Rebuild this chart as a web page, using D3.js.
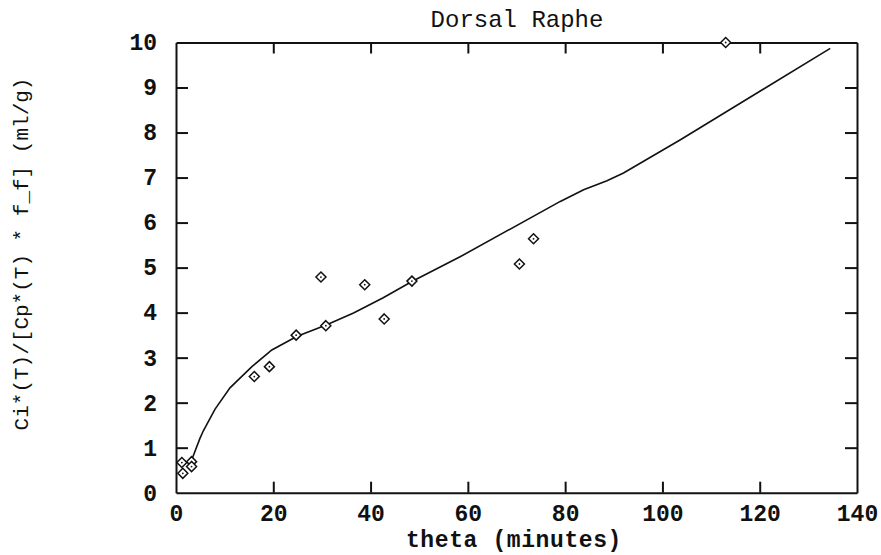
<!DOCTYPE html>
<html lang="en">
<head>
<meta charset="utf-8">
<title>Dorsal Raphe</title>
<script src="https://d3js.org/d3.v7.min.js"></script>
<style>
  body { margin: 0; background: #fff; }
  text { font-family: "Liberation Mono", "Courier New", monospace; fill: #111; }
  .tick text { font-size: 23px; font-weight: bold; }
  .title { font-size: 24px; }
  .label { font-size: 23px; font-weight: bold; letter-spacing: 0.6px; }
  .ylabel { font-size: 21px; }
  .domain, .tick line { stroke: #111; stroke-width: 2; }
</style>
</head>
<body>
<div id="vis"></div>
<script>
// measured points (theta, ratio)
const pointTheta = [1.2, 1.4, 3.2, 3.2, 16.1, 19.2, 24.7, 29.8, 30.8, 38.8, 42.8, 48.5, 70.6, 73.5, 113];
const pointRatio = [0.67, 0.43, 0.69, 0.58, 2.58, 2.80, 3.50, 4.79, 3.71, 4.62, 3.86, 4.70, 5.08, 5.64, 10.0];

// fitted curve
const fitTheta = [3.2, 4.9, 5.6, 8.0, 11.1, 15.6, 19.7, 24.8, 31.0, 36.5, 42.6, 48.5, 58.4, 79.0, 83.8, 88.6, 92.0, 103.7, 134.5];
const fitRatio = [0.72, 1.20, 1.37, 1.85, 2.33, 2.80, 3.17, 3.47, 3.73, 3.99, 4.33, 4.69, 5.24, 6.47, 6.73, 6.93, 7.10, 7.84, 9.87];

const xTicks = [0, 20, 40, 60, 80, 100, 120, 140];
const yTicks = [0, 1, 2, 3, 4, 5, 6, 7, 8, 9, 10];

const width = 881, height = 555;
const plotLeft = 176, plotRight = 857, plotTop = 42.5, plotBottom = 492.7;

const x = d3.scaleLinear().domain([0, 140]).range([plotLeft, plotRight]);
const y = d3.scaleLinear().domain([0, 10]).range([plotBottom, plotTop]);

const svg = d3.select("#vis").append("svg")
  .attr("width", width)
  .attr("height", height);

// axes, ticks pointing inward
svg.append("g")
  .attr("transform", "translate(0," + plotBottom + ")")
  .call(d3.axisBottom(x).tickValues(xTicks).tickSizeInner(-11).tickSizeOuter(0).tickPadding(12));

svg.append("g")
  .attr("transform", "translate(0," + plotTop + ")")
  .call(d3.axisTop(x).tickValues(xTicks.slice(1, -1)).tickSizeInner(-11).tickSizeOuter(0).tickFormat(""));

svg.append("g")
  .attr("transform", "translate(" + plotLeft + ",0)")
  .call(d3.axisLeft(y).tickValues(yTicks).tickSizeInner(-12).tickSizeOuter(0).tickPadding(19));

svg.append("g")
  .attr("transform", "translate(" + plotRight + ",0)")
  .call(d3.axisRight(y).tickValues(yTicks.slice(1, -1)).tickSizeInner(-12).tickSizeOuter(0).tickFormat(""));

// hide the edge ticks that sit on the frame corners
svg.selectAll(".tick line").filter(d => d === 0 || d === 140 || d === 10).remove();

// fitted line
const line = d3.line()
  .x((d, i) => x(fitTheta[i]))
  .y(d => y(d));

svg.append("path")
  .datum(fitRatio)
  .attr("fill", "none")
  .attr("stroke", "#111")
  .attr("stroke-width", 1.6)
  .attr("d", line);

// data points: diamonds with a centre dot
const pts = svg.append("g").selectAll("g")
  .data(pointRatio)
  .enter()
  .append("g")
  .attr("transform", (d, i) => "translate(" + x(pointTheta[i]) + "," + y(d) + ")");

pts.append("path")
  .attr("d", "M0,-5L5,0L0,5L-5,0Z")
  .attr("fill", "#fff")
  .attr("stroke", "#111")
  .attr("stroke-width", 1.5);

pts.append("circle")
  .attr("r", 0.9)
  .attr("fill", "#111");

// title
svg.append("text")
  .attr("class", "title")
  .attr("x", 517)
  .attr("y", 27)
  .attr("text-anchor", "middle")
  .text("Dorsal Raphe");

// x label
svg.append("text")
  .attr("class", "label")
  .attr("x", 514)
  .attr("y", 547)
  .attr("text-anchor", "middle")
  .text("theta (minutes)");

// y label
svg.append("text")
  .attr("class", "ylabel")
  .attr("transform", "translate(28,254) rotate(-90)")
  .attr("text-anchor", "middle")
  .text("Ci*(T)/[Cp*(T) * f_f] (ml/g)");
</script>
</body>
</html>
